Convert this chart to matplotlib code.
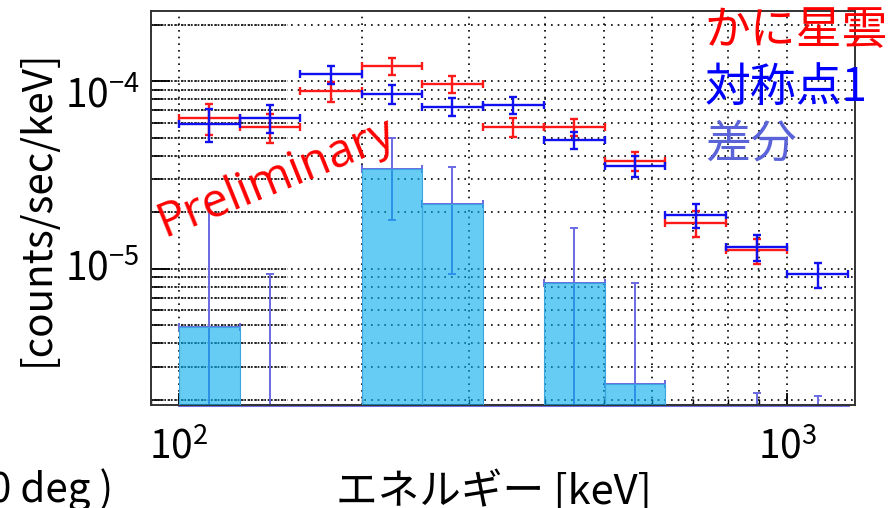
import numpy as np
import matplotlib
matplotlib.use("Agg")
import matplotlib.pyplot as plt
import matplotlib.transforms as mtransforms
from matplotlib.ticker import LogLocator, NullFormatter

plt.rcParams['font.family'] = ['Noto Sans CJK JP', 'DejaVu Sans']

# energy bin edges [keV]
edges = [100, 126, 158, 200, 251, 316, 398, 501, 631, 794, 1000, 1259]

# count rates [counts/sec/keV]
crab = [6.35e-5, 5.68e-5, 8.87e-5, 1.20e-4, 9.64e-5, 5.72e-5, 5.68e-5, 3.75e-5, 1.75e-5, 1.25e-5, np.nan]
crab_err = [1.20e-5, 1.02e-5, 1.08e-5, 1.24e-5, 1.00e-5, 6.7e-6, 5.9e-6, 4.3e-6, 2.75e-6, 1.87e-6, np.nan]

sym1 = [5.89e-5, 6.35e-5, 1.09e-4, 8.52e-5, 7.32e-5, 7.47e-5, 4.86e-5, 3.53e-5, 1.93e-5, 1.30e-5, 9.32e-6]
sym1_err = [1.18e-5, 1.09e-5, 1.23e-5, 9.9e-6, 8.2e-6, 7.7e-6, 5.2e-6, 4.4e-6, 2.85e-6, 2.05e-6, 1.45e-6]

# crab minus symmetric point
diff = [4.86e-6, -6.7e-6, -2.03e-5, 3.39e-5, 2.21e-5, -1.75e-5, 8.34e-6, 2.42e-6, -2.0e-6, -5.4e-7, -9.3e-6]
diff_err = [1.75e-5, 1.6e-5, 1.64e-5, 1.57e-5, 1.27e-5, 1.02e-5, 8.1e-6, 6.0e-6, 3.8e-6, 2.7e-6, 1.14e-5]

lo = np.array(edges[:-1], dtype=float)
hi = np.array(edges[1:], dtype=float)
cen = np.sqrt(lo * hi)
xerr = [cen - lo, hi - cen]

fig = plt.figure(figsize=(8.91, 5.08), dpi=100)
ax = fig.add_axes([151/891, 1 - 405/508, 704/891, 394/508])
ax.set_xscale('log')
ax.set_yscale('log')

# difference histogram: error bars under a translucent fill
ax.errorbar(cen, diff, yerr=diff_err, xerr=xerr, fmt='none', ecolor='#6a6ae2',
            elinewidth=1.4, capsize=2.8, capthick=1.4, zorder=2)
heights = np.where(np.array(diff) > 0, diff, np.nan)
ax.bar(lo, heights, width=hi - lo, align='edge', color=(0.0, 0.67, 0.92, 0.6),
       edgecolor='#3aa6e0', linewidth=0.8, zorder=3)
ax.plot([edges[0], edges[-1]], [1.88e-6, 1.88e-6], color='#7070e0', lw=2.2, zorder=2, clip_on=False)

ax.errorbar(cen, crab, yerr=crab_err, xerr=xerr, fmt='none', ecolor='#ff1a1a',
            elinewidth=1.7, capsize=2.8, capthick=1.7, zorder=4)
ax.errorbar(cen, sym1, yerr=sym1_err, xerr=xerr, fmt='none', ecolor='#1010f0',
            elinewidth=1.7, capsize=2.8, capthick=1.7, zorder=5)

ax.set_xlim(90, 1293)
ax.set_ylim(1.87e-6, 2.37e-4)

ax.xaxis.set_minor_locator(LogLocator(base=10, subs=np.arange(2, 10)))
ax.yaxis.set_minor_locator(LogLocator(base=10, subs=np.arange(2, 10)))
ax.xaxis.set_minor_formatter(NullFormatter())
ax.yaxis.set_minor_formatter(NullFormatter())

ax.grid(which='both', linestyle=(0, (1, 3)), color='black', linewidth=1.2, zorder=1)
# second, denser dotted layer on the left part of the horizontal grid
for yv in [2e-6, 3e-6, 4e-6, 5e-6, 6e-6, 7e-6, 8e-6, 9e-6, 1e-5, 2e-5, 3e-5, 4e-5,
           5e-5, 6e-5, 7e-5, 8e-5, 9e-5, 1e-4, 2e-4]:
    ax.plot([0, 0.195], [yv, yv], transform=ax.get_yaxis_transform(),
            linestyle=(2, (1.5, 2.5)), color='black', lw=1.2, zorder=1)
ax.set_axisbelow(True)

for sp in ax.spines.values():
    sp.set_color('#333333')
    sp.set_linewidth(1.4)

ax.tick_params(axis='y', which='major', direction='in', length=14, width=1.3,
               labelleft=False, right=False)
ax.tick_params(axis='y', which='minor', direction='in', length=8, width=1.1, right=False)
ax.tick_params(axis='x', which='major', direction='in', length=9, width=1.3,
               pad=16, labelsize=28, top=False)
ax.tick_params(axis='x', which='minor', direction='in', length=4, width=1.0, top=False)

# y tick labels placed by hand
for val, dy in [(1e-4, -10), (1e-5, 0)]:
    off = mtransforms.ScaledTranslation(0, dy / 72, fig.dpi_scale_trans)
    ax.text(-0.016, val, r'$\mathdefault{10^{%d}}$' % int(np.log10(val)),
            transform=ax.get_yaxis_transform() + off,
            ha='right', va='center', fontsize=28)

ax.set_ylabel('[counts/sec/keV]', fontsize=29, va='center')
ax.yaxis.set_label_coords(-0.162, 0.5)
ax.set_xlabel('エネルギー [keV]', fontsize=30, va='center')
ax.xaxis.set_label_coords(0.487, -0.22)

fig.text(-0.012, 1 - 490/508, '0 deg )', fontsize=29, ha='left', va='center')

fig.text(0.791, 1 - 31/508, 'かに星雲', color='#ff0000', fontsize=33, ha='left', va='center')
fig.text(0.791, 1 - 88/508, '対称点1', color='#0000ff', fontsize=33, ha='left', va='center')
fig.text(0.791, 1 - 144/508, '差分', color='#5b63d9', fontsize=33, ha='left', va='center')

fig.text(276/891, 1 - 178/508, 'Preliminary', color='#ff0000', fontsize=34,
         family='Open Sans', rotation=22, rotation_mode='anchor', ha='center', va='center')

fig.savefig('out.png', dpi=100)
